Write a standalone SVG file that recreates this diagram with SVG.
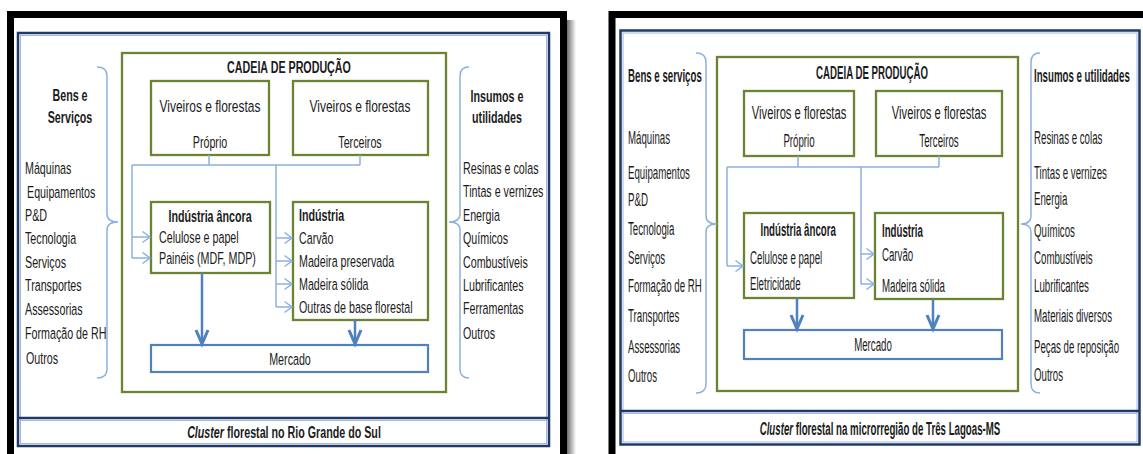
<svg xmlns="http://www.w3.org/2000/svg" width="1143" height="454" viewBox="0 0 1143 454">
<style>
.t{font-family:"Liberation Sans",Arial,sans-serif;fill:#1b1b1b;transform-box:fill-box}
.l{font-size:17px;transform:scaleX(.63);transform-origin:0 50%}
.lc{font-size:17px;transform:scaleX(.63);transform-origin:50% 50%;text-anchor:middle}
.lw{font-size:17px;transform:scaleX(.705);transform-origin:50% 50%;text-anchor:middle}
.r{font-size:19px;transform:scaleX(.51);transform-origin:0 50%}
.rc{font-size:19px;transform:scaleX(.51);transform-origin:50% 50%;text-anchor:middle}
.rw{font-size:19px;transform:scaleX(.59);transform-origin:50% 50%;text-anchor:middle}
.b{font-weight:bold}
.frame{fill:none;stroke:#000;stroke-width:7}
.nav{fill:none;stroke:#1F3A68;stroke-width:2.5}
.nav2{fill:none;stroke:#A3B8DB;stroke-width:1}
.grn{fill:#fff;stroke:#6B8433;stroke-width:2.3}
.mk{fill:#fff;stroke:#4F81BD;stroke-width:2.2}
.ln{fill:none;stroke:#8CB0DE;stroke-width:1.5}
.ar{fill:none;stroke:#8CB0DE;stroke-width:1.5;marker-end:url(#chev)}
.dn{fill:none;stroke:#4F81BD;stroke-width:2.5;marker-end:url(#down)}
.br{fill:none;stroke:#8CB0DE;stroke-width:1.5}
</style>
<defs>
<marker id="chev" markerUnits="userSpaceOnUse" markerWidth="10" markerHeight="14" refX="8.5" refY="6" orient="auto" overflow="visible">
<path d="M1,0.5 L8.5,6 L1,11.5" fill="none" stroke="#8CB0DE" stroke-width="1.5"/>
</marker>
<marker id="down" markerUnits="userSpaceOnUse" markerWidth="16" markerHeight="14" refX="14" refY="6" orient="auto" overflow="visible">
<path d="M0,0 L14,6 L0,12" fill="none" stroke="#4F81BD" stroke-width="3"/>
</marker>
<linearGradient id="sh" x1="0" y1="0" x2="1" y2="0">
<stop offset="0" stop-color="#6d6d6d"/>
<stop offset="1" stop-color="#ffffff"/>
</linearGradient>
</defs>
<rect x="0" y="0" width="1143" height="454" fill="#fff"/>

<!-- ============ LEFT PANEL ============ -->
<g id="left-frame">
<rect x="567" y="20" width="9" height="434" fill="url(#sh)"/>
<rect class="frame" x="10.5" y="14.5" width="553" height="450"/>
<rect class="nav" x="18" y="33" width="531" height="413"/>
<rect class="nav2" x="20.5" y="35.5" width="526" height="408"/>
<line class="nav" x1="18" y1="418" x2="549" y2="418"/>
<line class="nav2" x1="20.5" y1="420.5" x2="546.5" y2="420.5"/>
</g>
<g id="left-caption">
<text class="t lc b" x="284" y="438"><tspan font-style="italic">Cluster</tspan> florestal no Rio Grande do Sul</text>
</g>
<g id="left-cadeia">
<rect class="grn" x="122" y="53" width="324" height="339"/>
<text class="t lc b" x="289" y="73">CADEIA DE PRODUÇÃO</text>
</g>
<g id="left-proprio">
<rect class="grn" x="151" y="81" width="118" height="74"/>
<text class="t lw" x="210" y="112">Viveiros e florestas</text>
<text class="t lc" x="210" y="148">Próprio</text>
</g>
<g id="left-terceiros">
<rect class="grn" x="293" y="81" width="135" height="74"/>
<text class="t lw" x="360" y="112">Viveiros e florestas</text>
<text class="t lc" x="360" y="148">Terceiros</text>
</g>
<g id="left-ancora">
<rect class="grn" x="151" y="202" width="119" height="71"/>
<text class="t lc b" x="210" y="222">Indústria âncora</text>
<text class="t l" x="159" y="243">Celulose e papel</text>
<text class="t l" x="159" y="264">Painéis (MDF, MDP)</text>
</g>
<g id="left-industria">
<rect class="grn" x="293" y="202" width="135" height="118"/>
<text class="t l b" x="299" y="221">Indústria</text>
<text class="t l" x="299" y="244">Carvão</text>
<text class="t l" x="299" y="267">Madeira preservada</text>
<text class="t l" x="299" y="290">Madeira sólida</text>
<text class="t l" x="299" y="313">Outras de base florestal</text>
</g>
<g id="left-mercado">
<rect class="mk" x="151" y="345" width="277" height="27"/>
<text class="t lc" x="290" y="365">Mercado</text>
</g>
<g id="left-bens">
<text class="t lc b" x="70" y="101">Bens e</text>
<text class="t lc b" x="70" y="123">Serviços</text>
<text class="t l" x="25" y="174">Máquinas</text>
<text class="t l" x="27" y="198">Equipamentos</text>
<text class="t l" x="25" y="221">P&amp;D</text>
<text class="t l" x="25" y="244">Tecnologia</text>
<text class="t l" x="25" y="268">Serviços</text>
<text class="t l" x="25" y="291">Transportes</text>
<text class="t l" x="25" y="315">Assessorias</text>
<text class="t l" x="25" y="339">Formação de RH</text>
<text class="t l" x="26" y="364">Outros</text>
</g>
<g id="left-insumos">
<text class="t lc b" x="497" y="102">Insumos e</text>
<text class="t lc b" x="497" y="123">utilidades</text>
<text class="t l" x="463" y="174">Resinas e colas</text>
<text class="t l" x="463" y="197">Tintas e vernizes</text>
<text class="t l" x="463" y="221">Energia</text>
<text class="t l" x="463" y="244">Químicos</text>
<text class="t l" x="463" y="268">Combustíveis</text>
<text class="t l" x="463" y="291">Lubrificantes</text>
<text class="t l" x="463" y="314">Ferramentas</text>
<text class="t l" x="463" y="339">Outros</text>
</g>
<g id="left-connectors">
<path class="ln" d="M209,155 V165 M360,155 V165 M132,165 H360 M132,165 V258 M276,165 V307"/>
<path class="ar" d="M132,237 H150"/>
<path class="ar" d="M132,258 H150"/>
<path class="ar" d="M276,238 H292"/>
<path class="ar" d="M276,261 H292"/>
<path class="ar" d="M276,284 H292"/>
<path class="ar" d="M276,307 H292"/>
<path class="dn" d="M202,273 V344"/>
<path class="dn" d="M355,320 V344"/>
<path class="br" d="M97,67 Q107,67 107,76 V214 Q107,222 118,222 Q107,222 107,230 V369 Q107,378 97,378"/>
<path class="br" d="M469,67 Q460,67 460,76 V214 Q460,222 449,222 Q460,222 460,230 V369 Q460,378 469,378"/>
</g>

<!-- ============ RIGHT PANEL ============ -->
<g id="right-frame">
<rect class="frame" x="612" y="14.5" width="540" height="450"/>
<rect class="nav" x="620.5" y="30.5" width="519" height="414"/>
<rect class="nav2" x="623" y="33" width="514" height="409"/>
<line class="nav" x1="620.5" y1="411" x2="1139.5" y2="411"/>
<line class="nav2" x1="623" y1="413.5" x2="1137" y2="413.5"/>
</g>
<g id="right-caption">
<text class="t rc b" x="880" y="435"><tspan font-style="italic">Cluster</tspan> florestal na microrregião de Três Lagoas-MS</text>
</g>
<g id="right-cadeia">
<rect class="grn" x="717" y="57" width="301" height="334"/>
<text class="t rc b" x="872" y="79">CADEIA DE PRODUÇÃO</text>
</g>
<g id="right-proprio">
<rect class="grn" x="744" y="91" width="110" height="65"/>
<text class="t rw" x="799" y="119">Viveiros e florestas</text>
<text class="t rc" x="799" y="147">Próprio</text>
</g>
<g id="right-terceiros">
<rect class="grn" x="876" y="91" width="126" height="65"/>
<text class="t rw" x="939" y="119">Viveiros e florestas</text>
<text class="t rc" x="939" y="147">Terceiros</text>
</g>
<g id="right-ancora">
<rect class="grn" x="744" y="213" width="110" height="85"/>
<text class="t rc b" x="798" y="236">Indústria âncora</text>
<text class="t r" x="750" y="264">Celulose e papel</text>
<text class="t r" x="750" y="290">Eletricidade</text>
</g>
<g id="right-industria">
<rect class="grn" x="875" y="213" width="128" height="86"/>
<text class="t r b" x="882" y="237">Indústria</text>
<text class="t r" x="882" y="261">Carvão</text>
<text class="t r" x="882" y="292">Madeira sólida</text>
</g>
<g id="right-mercado">
<rect class="mk" x="744" y="330" width="258" height="29"/>
<text class="t rc" x="873" y="351">Mercado</text>
</g>
<g id="right-bens">
<text class="t r b" x="628" y="82">Bens e serviços</text>
<text class="t r" x="628" y="144">Máquinas</text>
<text class="t r" x="628" y="179">Equipamentos</text>
<text class="t r" x="628" y="206">P&amp;D</text>
<text class="t r" x="628" y="235">Tecnologia</text>
<text class="t r" x="628" y="264">Serviços</text>
<text class="t r" x="628" y="292">Formação de RH</text>
<text class="t r" x="628" y="322">Transportes</text>
<text class="t r" x="628" y="353">Assessorias</text>
<text class="t r" x="628" y="382">Outros</text>
</g>
<g id="right-insumos">
<text class="t r b" x="1034" y="82">Insumos e utilidades</text>
<text class="t r" x="1034" y="144">Resinas e colas</text>
<text class="t r" x="1034" y="179">Tintas e vernizes</text>
<text class="t r" x="1034" y="205">Energia</text>
<text class="t r" x="1034" y="237">Químicos</text>
<text class="t r" x="1034" y="264">Combustíveis</text>
<text class="t r" x="1034" y="292">Lubrificantes</text>
<text class="t r" x="1034" y="322">Materiais diversos</text>
<text class="t r" x="1034" y="353">Peças de reposição</text>
<text class="t r" x="1034" y="381">Outros</text>
</g>
<g id="right-connectors">
<path class="ln" d="M798,156 V167 M939,156 V167 M727,167 H939 M727,167 V266 M861,167 V284"/>
<path class="ar" d="M727,266 H743"/>
<path class="ar" d="M861,254 H874"/>
<path class="ar" d="M861,284 H874"/>
<path class="dn" d="M797,298 V329"/>
<path class="dn" d="M933,299 V329"/>
<path class="br" d="M696,53 Q706,53 706,62 V216 Q706,224 717,224 Q706,224 706,232 V384 Q706,393 696,393"/>
<path class="br" d="M1040,53 Q1031,53 1031,62 V216 Q1031,224 1021,224 Q1031,224 1031,232 V384 Q1031,393 1040,393"/>
</g>
</svg>
